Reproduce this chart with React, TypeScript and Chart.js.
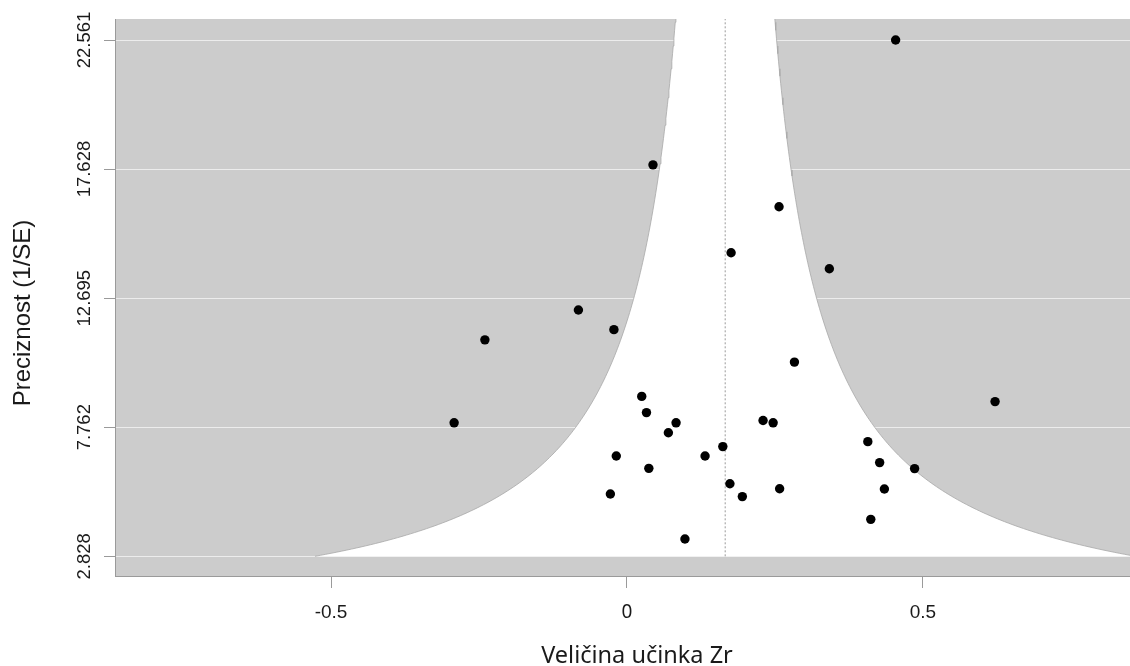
import React, { useEffect, useRef } from 'react';
import { Chart, registerables } from 'chart.js';

Chart.register(...registerables);

// ---- data ----
const EFFECT_SIZES = [
  0.454, 0.044, 0.257, 0.176, 0.342, -0.082, -0.022, -0.24, 0.283, 0.622,
  0.025, 0.033, -0.292, 0.083, 0.07, 0.23, 0.247, 0.162, 0.407, -0.018,
  0.132, 0.427, 0.037, 0.486, 0.174, 0.258, 0.195, -0.028, 0.435, 0.412, 0.098,
];
const PRECISIONS = [
  22.56, 17.79, 16.19, 14.43, 13.82, 12.24, 11.49, 11.1, 10.25, 8.74,
  8.94, 8.32, 7.93, 7.93, 7.55, 8.02, 7.93, 7.02, 7.21, 6.66,
  6.66, 6.41, 6.19, 6.18, 5.6, 5.41, 5.11, 5.21, 5.4, 4.24, 3.49,
];
const Y_TICKS = [2.828, 7.762, 12.695, 17.628, 22.561];
const Y_TICK_LABELS = ['2.828', '7.762', '12.695', '17.628', '22.561'];
const X_TICKS = [-0.5, 0, 0.5];
const X_TICK_LABELS = ['-0.5', '0', '0.5'];
const ESTIMATE = 0.166;
const Z_CRIT = 1.96;
const MIN_PRECISION = 2.828;
const FUNNEL_TOP_PRECISION = 40;
const X_MIN = -0.865;
const X_MAX = 0.85;
const Y_MIN = 2.075;
const Y_MAX = 23.364;
const X_TITLE = 'Veličina učinka Zr';
const Y_TITLE = 'Preciznost (1/SE)';

function funnelShape() {
  const ps: number[] = [];
  const n = 200;
  for (let i = 0; i <= n; i++) {
    ps.push(MIN_PRECISION * Math.pow(FUNNEL_TOP_PRECISION / MIN_PRECISION, i / n));
  }
  const left = ps.map((p) => ({ x: ESTIMATE - Z_CRIT / p, y: p }));
  const right = ps
    .slice()
    .reverse()
    .map((p) => ({ x: ESTIMATE + Z_CRIT / p, y: p }));
  return [...left, ...right];
}

const textPlugin = {
  id: 'funnelDecor',
  beforeDraw(chart: any) {
    const { ctx, chartArea } = chart;
    const { left, top, right, bottom } = chartArea;
    ctx.save();
    ctx.fillStyle = '#cccccc';
    ctx.fillRect(left, top, right - left, bottom - top);
    ctx.restore();
  },
  afterDraw(chart: any) {
    const ctx = chart.ctx;
    const ys = chart.scales.y;
    ctx.save();
    ctx.fillStyle = '#1a1a1a';
    ctx.textAlign = 'center';
    ctx.textBaseline = 'alphabetic';
    ctx.font = '18.5px "Liberation Sans", Arial, sans-serif';
    Y_TICKS.forEach((v, i) => {
      const py = ys.getPixelForValue(v);
      ctx.save();
      ctx.translate(90, py);
      ctx.rotate(-Math.PI / 2);
      ctx.fillText(Y_TICK_LABELS[i], 0, 0);
      ctx.restore();
    });
    ctx.font = '24px "Liberation Sans", Arial, sans-serif';
    ctx.save();
    ctx.translate(30, 313);
    ctx.rotate(-Math.PI / 2);
    ctx.fillText(Y_TITLE, 0, 0);
    ctx.restore();
    ctx.font = '23.5px "Noto Sans", sans-serif';
    ctx.fillText(X_TITLE, 637, 663);
    ctx.restore();
  },
};

export default function App() {
  const ref = useRef<HTMLCanvasElement | null>(null);

  useEffect(() => {
    document.body.style.margin = '0';
    const canvas = ref.current;
    if (!canvas) return;
    const points = EFFECT_SIZES.map((x, i) => ({ x, y: PRECISIONS[i] }));
    const chart = new Chart(canvas, {
      type: 'scatter',
      data: {
        datasets: [
          {
            data: points,
            pointRadius: 4.7,
            pointHoverRadius: 4.7,
            backgroundColor: '#000000',
            borderWidth: 0,
            order: 0,
          } as any,
          {
            data: [
              { x: ESTIMATE, y: MIN_PRECISION },
              { x: ESTIMATE, y: FUNNEL_TOP_PRECISION },
            ],
            showLine: true,
            pointRadius: 0,
            borderColor: '#9a9a9a',
            borderWidth: 1,
            borderDash: [2, 2],
            order: 1,
          } as any,
          {
            data: funnelShape(),
            showLine: true,
            pointRadius: 0,
            fill: 'shape',
            backgroundColor: '#ffffff',
            borderColor: '#a8a8a8',
            borderWidth: 0.8,
            tension: 0,
            order: 2,
          } as any,
        ],
      },
      options: {
        responsive: false,
        animation: false,
        events: [],
        layout: { autoPadding: false, padding: { top: 19, left: 0, right: 0, bottom: 0 } },
        plugins: {
          legend: { display: false },
          tooltip: { enabled: false },
        },
        scales: {
          x: {
            type: 'linear',
            min: X_MIN,
            max: X_MAX,
            afterBuildTicks: (s: any) => {
              s.ticks = X_TICKS.map((v) => ({ value: v }));
            },
            afterFit: (s: any) => {
              s.height = 90;
            },
            grid: {
              drawOnChartArea: false,
              drawTicks: true,
              tickLength: 12,
              tickColor: '#9a9a9a',
            },
            border: { display: true, color: '#9a9a9a', width: 1 },
            ticks: {
              padding: 13,
              color: '#1a1a1a',
              maxRotation: 0,
              autoSkip: false,
              font: (c: any) =>
                c.tick && c.tick.value === 0
                  ? { family: '"Noto Sans", sans-serif', size: 19 }
                  : { family: '"Liberation Sans", Arial, sans-serif', size: 19 },
              callback: (v: any) => {
                const i = X_TICKS.indexOf(Number(v));
                return i >= 0 ? X_TICK_LABELS[i] : '';
              },
            },
          },
          y: {
            type: 'linear',
            min: Y_MIN,
            max: Y_MAX,
            position: 'left',
            afterBuildTicks: (s: any) => {
              s.ticks = Y_TICKS.map((v) => ({ value: v }));
            },
            afterFit: (s: any) => {
              s.width = 115;
            },
            grid: {
              color: '#ececec',
              lineWidth: 1,
              drawTicks: true,
              tickLength: 11,
              tickColor: '#9a9a9a',
            },
            border: { display: true, color: '#9a9a9a', width: 1 },
            ticks: { display: false },
          },
        },
      },
      plugins: [textPlugin],
    } as any);
    return () => chart.destroy();
  }, []);

  return <canvas ref={ref} width={1130} height={666} style={{ display: 'block' }} />;
}
